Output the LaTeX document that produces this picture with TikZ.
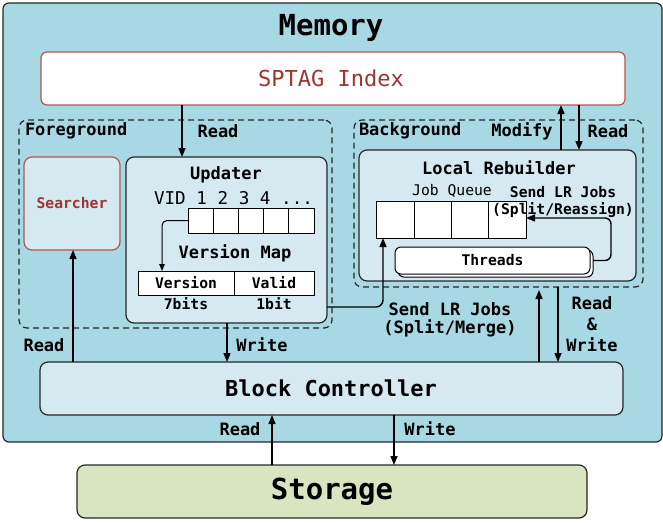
\documentclass[tikz,border=0pt]{standalone}
\usepackage{fontspec}
\setmonofont{DejaVu Sans Mono}
\usetikzlibrary{arrows.meta,shadows}
\definecolor{memblue}{RGB}{168,216,227}
\definecolor{lightblue}{RGB}{212,234,240}
\definecolor{storagegreen}{RGB}{217,228,192}
\definecolor{redborder}{RGB}{184,84,80}
\definecolor{redtext}{RGB}{160,52,46}
\begin{document}
\begin{tikzpicture}[x=1pt,y=-1pt,font=\ttfamily,
  every node/.style={inner sep=0pt,outer sep=0pt},
  panel/.style={draw=black!85,line width=1.2pt,rounded corners=8pt},
  dashbox/.style={draw=black!85,line width=1.2pt,rounded corners=8pt,dash pattern=on 6pt off 4pt},
  cell/.style={draw=black,fill=white,line width=1pt},
  arr/.style={line width=1.4pt,-{Triangle[length=9pt,width=7pt]}},
  thinarr/.style={line width=1pt,-{Triangle[length=7pt,width=5.5pt]}},
  lbl/.style={font=\ttfamily\bfseries\fontsize{17}{19}\selectfont},
  small/.style={font=\ttfamily\bfseries\fontsize{14.7}{17}\selectfont},
  big/.style={font=\ttfamily\bfseries\fontsize{22}{24}\selectfont},
  huge/.style={font=\ttfamily\bfseries\fontsize{29}{31}\selectfont}]
\useasboundingbox (0,0) rectangle (663,522);

% Memory
\node[panel,fill=memblue,rounded corners=6pt,minimum width=659pt,minimum height=439pt] (mem) at (332.5,222.5) {};
\node[huge] (memt) at (331,28) {Memory};

% SPTAG
\node[draw=redborder,line width=1.2pt,fill=white,rounded corners=6pt,minimum width=584pt,minimum height=53pt] (sptag) at (333,78.5) {};
\node[font=\ttfamily\fontsize{22}{24}\selectfont,text=redtext] (sptagt) at (331,78) {SPTAG Index};

% Foreground
\node[dashbox,minimum width=313pt,minimum height=208pt] (fg) at (175.5,224) {};
\node[lbl,anchor=west] (fgt) at (25,131) {Foreground};
\node[lbl] (fgread) at (218,131) {Read};

% Searcher
\node[draw=redborder,line width=1.2pt,fill=lightblue,rounded corners=8pt,minimum width=96pt,minimum height=93pt] (srch) at (72,203.5) {};
\node[small,text=redtext] (srcht) at (72,203) {Searcher};

% Updater
\node[panel,fill=lightblue,minimum width=201pt,minimum height=166pt] (upd) at (226.5,240) {};
\node[lbl] (updt) at (226,175) {Updater};
\node[font=\ttfamily\fontsize{17.6}{19}\selectfont] (vid) at (233.5,198) {VID 1 2 3 4 ...};
\foreach \i/\cx in {1/200.6,2/225.8,3/251,4/276.2,5/301.4}{
  \node[cell,minimum width=25.2pt,minimum height=25pt] (c\i) at (\cx,220.5) {};
}
\node[lbl] (vmapt) at (235,253) {Version Map};
\node[cell,minimum width=96pt,minimum height=24pt] (ver) at (186,283) {};
\node[cell,minimum width=80pt,minimum height=24pt] (val) at (274,283) {};
\node[small] (vert) at (186,283) {Version};
\node[small] (valt) at (274,283) {Valid};
\node[small] (bits7) at (186,304) {7bits};
\node[small] (bit1) at (274,304) {1bit};

% Background
\node[dashbox,minimum width=289pt,minimum height=167pt] (bg) at (498.5,203.5) {};
\node[lbl,anchor=west] (bgt) at (359,131) {Background};
\node[lbl] (modt) at (522,131) {Modify};
\node[lbl] (bgread) at (608,131) {Read};

% Local Rebuilder
\node[panel,fill=lightblue,minimum width=277pt,minimum height=131pt] (lr) at (497.5,215.5) {};
\node[lbl] (lrt) at (499,168) {Local Rebuilder};
\node[font=\ttfamily\fontsize{14.7}{17}\selectfont] (jqt) at (452,191) {Job Queue};
\node[small] (send1) at (563,192) {Send LR Jobs};
\foreach \i/\cx in {1/395.6,2/432.9,3/470.1,4/507.4}{
  \node[cell,minimum width=37.25pt,minimum height=37pt] (j\i) at (\cx,219.5) {};
}
\node[small] (send1b) at (563,210) {(Split/Reassign)};
\node[draw=black,line width=1pt,fill=white,rounded corners=6pt,minimum width=195pt,minimum height=27pt,
  copy shadow={shadow xshift=3pt,shadow yshift=-3pt,draw=black,fill=white}] (thr) at (492.5,260.5) {};
\node[small] (thrt) at (492.5,260) {Threads};

% labels
\node[lbl] (send2) at (450,309) {Send LR Jobs};
\node[lbl] (send2b) at (450,328) {(Split/Merge)};
\node[lbl] (rw1) at (592,303) {Read};
\node[lbl] (rw2) at (592,324) {\&};
\node[lbl] (rw3) at (592,345) {Write};
\node[lbl] (lread) at (44,345) {Read};
\node[lbl] (uwrite) at (262,345) {Write};

% Block controller
\node[panel,fill=lightblue,minimum width=583pt,minimum height=53pt] (bc) at (331.5,388.5) {};
\node[big] (bct) at (331,388) {Block Controller};
\node[lbl] (sread) at (240,429) {Read};
\node[lbl] (swrite) at (430,429) {Write};

% Storage
\node[panel,fill=storagegreen,minimum width=510pt,minimum height=53pt] (st) at (332,491.5) {};
\node[huge] (stt) at (332,492) {Storage};

% connectors
\draw[arr] (182,0 |- sptag.south) -- (182,0 |- upd.north);
\draw[thinarr,rounded corners=5pt] (c1.west) -| (ver.north -| 162,0);
\draw[arr] (73,0 |- bc.north) -- (73,0 |- srch.south);
\draw[arr] (227,0 |- upd.south) -- (227,0 |- bc.north);
\draw[arr,rounded corners=7pt] (upd.east |- 0,307) -| (j1.south -| 383,0);
\draw[arr] (561,0 |- lr.north) -- (561,0 |- sptag.south);
\draw[arr] (579,0 |- sptag.south) -- (579,0 |- lr.north);
\draw[arr,rounded corners=6pt] (593,0 |- thr.east) -- (611,0 |- thr.east) -- (611,0 |- 0,218) -- (j4.east |- 0,218);
\draw[arr] (539,0 |- bc.north) -- (539,290);
\draw[arr] (558,287) -- (558,0 |- bc.north);
\draw[arr] (272,0 |- st.north) -- (272,0 |- bc.south);
\draw[arr] (394,0 |- bc.south) -- (394,0 |- st.north);
\end{tikzpicture}
\end{document}
